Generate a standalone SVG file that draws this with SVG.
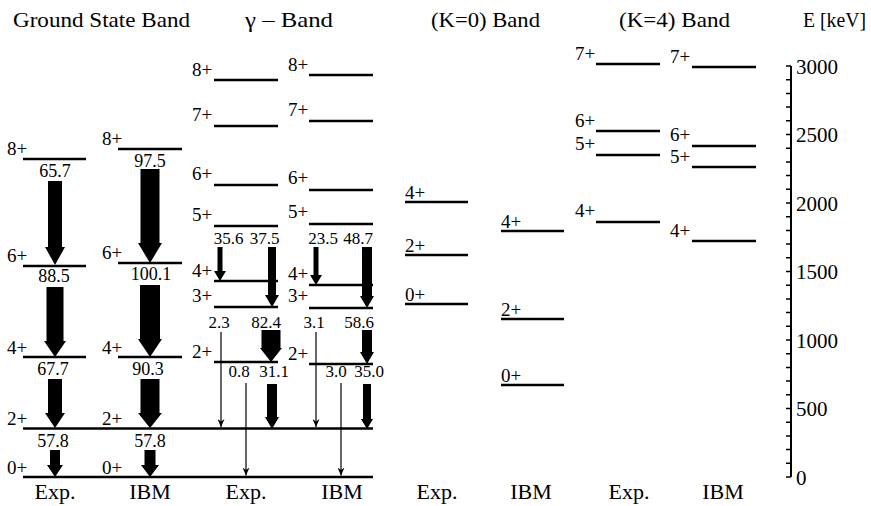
<svg xmlns="http://www.w3.org/2000/svg" width="871" height="506" viewBox="0 0 871 506" font-family="Liberation Serif, serif">
<style>
text{font-family:"Liberation Serif","Times New Roman",serif;fill:#000}
.h{font-size:21px}
.s{font-size:19px}
.n{font-size:18px;text-anchor:middle}
.g{font-size:17px;text-anchor:middle}
.b{font-size:22px;text-anchor:middle}
.ax{font-size:21px}
.lv{stroke:#000;stroke-width:2.5;fill:none}
.th{stroke:#000;stroke-width:1.2;fill:none}
.tk{stroke:#000;stroke-width:1.5}
polygon{fill:#000}
</style>
<defs>
<marker id="ah" markerUnits="userSpaceOnUse" markerWidth="9" markerHeight="7" refX="8" refY="3.5" orient="auto" viewBox="0 0 9 7">
<path d="M0,0 L8,3.5 L0,7 L2.5,3.5 Z" fill="#000"/>
</marker>
</defs>
<g id="headers">
<text class="h" x="13" y="27" textLength="177" lengthAdjust="spacingAndGlyphs">Ground State Band</text>
<text class="h" x="245" y="27" textLength="88" lengthAdjust="spacingAndGlyphs">γ – Band</text>
<text class="h" x="431" y="27" textLength="109" lengthAdjust="spacingAndGlyphs">(K=0) Band</text>
<text class="h" x="619" y="27" textLength="111" lengthAdjust="spacingAndGlyphs">(K=4) Band</text>
<text class="h" x="803" y="27" textLength="63" lengthAdjust="spacingAndGlyphs">E [keV]</text>
</g>
<g id="columns">
<text class="b" x="55" y="499">Exp.</text>
<text class="b" x="150" y="499">IBM</text>
<text class="b" x="246" y="499">Exp.</text>
<text class="b" x="342" y="499">IBM</text>
<text class="b" x="437" y="499">Exp.</text>
<text class="b" x="531" y="499">IBM</text>
<text class="b" x="629" y="499">Exp.</text>
<text class="b" x="723" y="499">IBM</text>
</g>
<!-- Ground state band -->
<g id="gs-exp-8"><line class="lv" x1="23" y1="159" x2="86" y2="159"/><text class="s" x="7" y="155">8+</text></g>
<g id="gs-exp-6"><line class="lv" x1="23" y1="266" x2="86" y2="266"/><text class="s" x="7" y="262">6+</text></g>
<g id="gs-exp-4"><line class="lv" x1="23" y1="357" x2="86" y2="357"/><text class="s" x="7" y="354">4+</text></g>
<g id="gs-ibm-8"><line class="lv" x1="118" y1="149" x2="182" y2="149"/><text class="s" x="102" y="145">8+</text></g>
<g id="gs-ibm-6"><line class="lv" x1="118" y1="263" x2="182" y2="263"/><text class="s" x="102" y="259">6+</text></g>
<g id="gs-ibm-4"><line class="lv" x1="118" y1="357" x2="182" y2="357"/><text class="s" x="102" y="354">4+</text></g>
<g id="gs-2"><line class="lv" x1="23" y1="428.5" x2="373" y2="428.5"/><text class="s" x="7" y="425">2+</text><text class="s" x="102" y="425">2+</text></g>
<g id="gs-0"><line class="lv" x1="23" y1="477" x2="373" y2="477"/><text class="s" x="7" y="474">0+</text><text class="s" x="102" y="474">0+</text></g>
<!-- Gamma band -->
<g id="g-exp-8"><line class="lv" x1="214" y1="80" x2="278" y2="80"/><text class="s" x="192" y="76">8+</text></g>
<g id="g-exp-7"><line class="lv" x1="214" y1="126" x2="278" y2="126"/><text class="s" x="192" y="121">7+</text></g>
<g id="g-exp-6"><line class="lv" x1="214" y1="185" x2="278" y2="185"/><text class="s" x="192" y="180">6+</text></g>
<g id="g-exp-5"><line class="lv" x1="214" y1="226" x2="278" y2="226"/><text class="s" x="192" y="221">5+</text></g>
<g id="g-exp-4"><line class="lv" x1="214" y1="281" x2="278" y2="281"/><text class="s" x="192" y="277">4+</text></g>
<g id="g-exp-3"><line class="lv" x1="214" y1="307" x2="278" y2="307"/><text class="s" x="192" y="302">3+</text></g>
<g id="g-exp-2"><line class="lv" x1="214" y1="362" x2="278" y2="362"/><text class="s" x="192" y="358">2+</text></g>
<g id="g-ibm-8"><line class="lv" x1="309" y1="75" x2="373" y2="75"/><text class="s" x="288" y="71">8+</text></g>
<g id="g-ibm-7"><line class="lv" x1="309" y1="121" x2="373" y2="121"/><text class="s" x="288" y="116">7+</text></g>
<g id="g-ibm-6"><line class="lv" x1="309" y1="190" x2="373" y2="190"/><text class="s" x="288" y="184">6+</text></g>
<g id="g-ibm-5"><line class="lv" x1="309" y1="224" x2="373" y2="224"/><text class="s" x="288" y="218">5+</text></g>
<g id="g-ibm-4"><line class="lv" x1="309" y1="285" x2="373" y2="285"/><text class="s" x="288" y="280">4+</text></g>
<g id="g-ibm-3"><line class="lv" x1="309" y1="308" x2="373" y2="308"/><text class="s" x="288" y="302">3+</text></g>
<g id="g-ibm-2"><line class="lv" x1="309" y1="364" x2="373" y2="364"/><text class="s" x="288" y="360">2+</text></g>
<!-- K=0 band -->
<g id="k0-exp-4"><line class="lv" x1="405" y1="202" x2="468" y2="202"/><text class="s" x="405" y="199">4+</text></g>
<g id="k0-exp-2"><line class="lv" x1="405" y1="255" x2="468" y2="255"/><text class="s" x="405" y="252">2+</text></g>
<g id="k0-exp-0"><line class="lv" x1="405" y1="304" x2="468" y2="304"/><text class="s" x="405" y="301">0+</text></g>
<g id="k0-ibm-4"><line class="lv" x1="501" y1="231" x2="564" y2="231"/><text class="s" x="501" y="228">4+</text></g>
<g id="k0-ibm-2"><line class="lv" x1="501" y1="319" x2="564" y2="319"/><text class="s" x="501" y="316">2+</text></g>
<g id="k0-ibm-0"><line class="lv" x1="501" y1="385" x2="564" y2="385"/><text class="s" x="501" y="382">0+</text></g>
<!-- K=4 band -->
<g id="k4-exp-7"><line class="lv" x1="596" y1="64" x2="660" y2="64"/><text class="s" x="575" y="60">7+</text></g>
<g id="k4-exp-6"><line class="lv" x1="596" y1="131" x2="660" y2="131"/><text class="s" x="575" y="127">6+</text></g>
<g id="k4-exp-5"><line class="lv" x1="596" y1="155" x2="660" y2="155"/><text class="s" x="575" y="150">5+</text></g>
<g id="k4-exp-4"><line class="lv" x1="596" y1="222" x2="660" y2="222"/><text class="s" x="575" y="217">4+</text></g>
<g id="k4-ibm-7"><line class="lv" x1="692" y1="67" x2="756" y2="67"/><text class="s" x="670" y="63">7+</text></g>
<g id="k4-ibm-6"><line class="lv" x1="692" y1="146" x2="756" y2="146"/><text class="s" x="670" y="141">6+</text></g>
<g id="k4-ibm-5"><line class="lv" x1="692" y1="167" x2="756" y2="167"/><text class="s" x="670" y="163">5+</text></g>
<g id="k4-ibm-4"><line class="lv" x1="692" y1="241" x2="756" y2="241"/><text class="s" x="670" y="237">4+</text></g>
<!-- Connectors -->
<g id="connectors">
<polygon points="48,181 62,181 62,247 65,247 55,265 45,247 48,247"/>
<polygon points="46.5,287 63.5,287 63.5,341 66,341 55,357 44,341 46.5,341"/>
<polygon points="48,379 62,379 62,413 65,413 55,428 45,413 48,413"/>
<polygon points="50,450 60,450 60,465 63,465 55,477 47,465 50,465"/>
<polygon points="140.5,169 159.5,169 159.5,243 162,243 150,263 138,243 140.5,243"/>
<polygon points="140,285 160,285 160,339 162,339 150,357 138,339 140,339"/>
<polygon points="140.5,379 159.5,379 159.5,413 162,413 150,428 138,413 140.5,413"/>
<polygon points="144.5,450 155.5,450 155.5,465 159,465 150,477 141,465 144.5,465"/>
<polygon points="217.5,247 222.5,247 222.5,271 226,271 220,281 214,271 217.5,271"/>
<polygon points="268,247 276,247 276,295 279,295 272,307 265,295 268,295"/>
<polygon points="261.5,330 280.5,330 280.5,348 282,348 271,362 260,348 261.5,348"/>
<polygon points="267,384 277,384 277,417 279,417 272,429 265,417 267,417"/>
<polygon points="313.5,247 318.5,247 318.5,275 322,275 316,285 310,275 313.5,275"/>
<polygon points="362,247 372,247 372,296 374,296 367,308 360,296 362,296"/>
<polygon points="362,330 372,330 372,352 374,352 367,364 360,352 362,352"/>
<polygon points="363,384 371,384 371,419 373,419 367,429 361,419 363,419"/>
<line class="th" x1="221" y1="332" x2="221" y2="427" marker-end="url(#ah)"/>
<line class="th" x1="246" y1="383" x2="246" y2="475.5" marker-end="url(#ah)"/>
<line class="th" x1="316" y1="332" x2="316" y2="427" marker-end="url(#ah)"/>
<line class="th" x1="341" y1="383" x2="341" y2="475.5" marker-end="url(#ah)"/>
<text class="n" x="55" y="177">65.7</text>
<text class="n" x="54" y="282">88.5</text>
<text class="n" x="53" y="375">67.7</text>
<text class="n" x="53" y="447">57.8</text>
<text class="n" x="150" y="167">97.5</text>
<text class="n" x="151" y="280">100.1</text>
<text class="n" x="148" y="375">90.3</text>
<text class="n" x="150" y="447">57.8</text>
<text class="g" x="228.5" y="244">35.6</text>
<text class="g" x="264.5" y="244">37.5</text>
<text class="g" x="219" y="328">2.3</text>
<text class="g" x="266" y="328">82.4</text>
<text class="g" x="239" y="377">0.8</text>
<text class="g" x="274" y="377">31.1</text>
<text class="g" x="323" y="244">23.5</text>
<text class="g" x="358" y="244">48.7</text>
<text class="g" x="314" y="328">3.1</text>
<text class="g" x="359" y="328">58.6</text>
<text class="g" x="336" y="377">3.0</text>
<text class="g" x="369" y="377">35.0</text>
</g>
<!-- Energy axis -->
<g id="axis">
<line x1="791" y1="66" x2="791" y2="477" stroke="#000" stroke-width="2"/>
<path class="tk" d="M786,477H791M786,463.3H791M786,449.6H791M786,435.9H791M786,422.2H791M786,408.5H791M786,394.8H791M786,381.1H791M786,367.4H791M786,353.7H791M786,340H791M786,326.3H791M786,312.6H791M786,298.9H791M786,285.2H791M786,271.5H791M786,257.8H791M786,244.1H791M786,230.4H791M786,216.7H791M786,203H791M786,189.3H791M786,175.6H791M786,161.9H791M786,148.2H791M786,134.5H791M786,120.8H791M786,107.1H791M786,93.4H791M786,79.7H791M786,66H791"/>
<text class="ax" x="796" y="73.5">3000</text>
<text class="ax" x="796" y="142">2500</text>
<text class="ax" x="796" y="210.5">2000</text>
<text class="ax" x="796" y="279">1500</text>
<text class="ax" x="796" y="347.5">1000</text>
<text class="ax" x="796" y="416">500</text>
<text class="ax" x="796" y="484.5">0</text>
</g>
</svg>
